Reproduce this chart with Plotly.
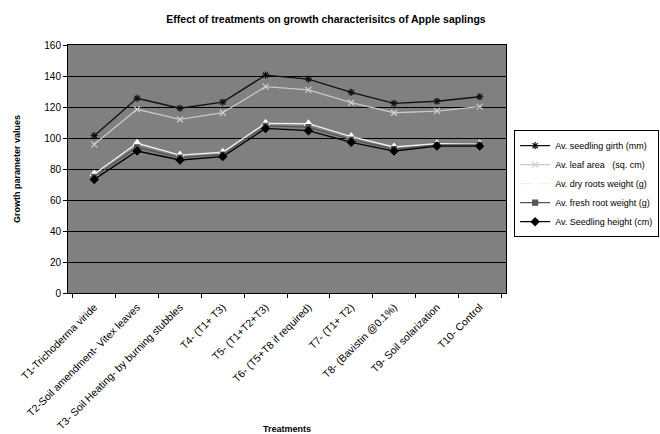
import plotly.graph_objects as go

treatments = ["T1-Trichoderma viride", "T2-Soil amendment- Vitex leaves",
              "T3- Soil Heating- by burning stubbles", "T4- (T1+ T3)", "T5- (T1+T2+T3)",
              "T6- (T5+T8 if required)", "T7- (T1+ T2)", "T8- (Bavistin @0.1%)",
              "T9- Soil solarization", "T10- Control"]
seedling_girth = [101.5, 125.6, 119.2, 123.2, 140.6, 138.0, 129.5, 122.4, 123.7, 126.6]
leaf_area = [95.9, 118.5, 112.0, 116.3, 133.1, 131.0, 122.8, 116.3, 117.4, 120.2]
dry_roots_weight = [76.8, 96.6, 89.0, 90.8, 109.5, 109.2, 100.9, 94.2, 96.3, 96.1]
fresh_root_weight = [75.0, 94.0, 87.3, 89.3, 107.8, 107.0, 99.0, 92.8, 95.5, 95.5]
seedling_height = [73.3, 91.6, 85.8, 88.0, 106.2, 104.7, 97.2, 91.6, 94.8, 94.8]

font = "Liberation Sans, Arial, sans-serif"
fig = go.Figure()
specs = [
    ("Av. seedling girth (mm)", seedling_girth, "#111111", "asterisk-open", "#111111", 6),
    ("Av. leaf area   (sq. cm)", leaf_area, "#c8c8c8", "x-thin-open", "#d0d0d0", 6),
    ("Av. dry roots weight (g)", dry_roots_weight, "#f0f0f0", "triangle-up", "#ffffff", 7),
    ("Av. fresh root weight (g)", fresh_root_weight, "#555555", "square", "#555555", 5),
    ("Av. Seedling height (cm)", seedling_height, "#000000", "diamond", "#000000", 6),
]
for name, vals, lc, sym, mc, ms in specs:
    fig.add_trace(go.Scatter(
        x=treatments, y=vals, name=name, mode="lines+markers",
        line=dict(color=lc, width=1.3),
        marker=dict(symbol=sym, color=mc, size=ms, line=dict(color=mc, width=1.2)),
    ))

fig.update_layout(
    width=660, height=434,
    margin=dict(l=68, r=154, t=45, b=141),
    paper_bgcolor="white", plot_bgcolor="#808080",
    font=dict(family=font, size=9, color="black"),
    title=dict(text="<b>Effect of treatments on growth characterisitcs of Apple saplings</b>",
               x=0.494, xanchor="center", y=0.955, yanchor="middle",
               font=dict(size=10.5), automargin=False),
    legend=dict(xref="container", yref="container", x=0.779, y=0.70,
                xanchor="left", yanchor="top",
                bgcolor="white", bordercolor="black", borderwidth=1,
                font=dict(size=9), tracegroupgap=0, itemwidth=30),
    showlegend=True,
)
fig.update_xaxes(
    type="category", tickangle=-45, tickson="boundaries", ticks="outside",
    ticklen=4, tickcolor="black", showline=True, linecolor="black", mirror=True,
    showgrid=False, tickfont=dict(size=10.5), automargin=False, ticklabelstandoff=3,
    title=dict(text="<b>Treatments</b>", font=dict(size=9), standoff=6),
)
fig.update_yaxes(
    range=[0, 160], dtick=20, ticks="outside", ticklen=4, tickcolor="black",
    showline=True, linecolor="black", mirror=True, automargin=False,
    showgrid=True, gridcolor="black", gridwidth=1, zeroline=False,
    tickfont=dict(size=10),
    title=dict(text="<b>Growth parameter values</b>", font=dict(size=9), standoff=22),
)
fig.write_html("out.html", config={"displayModeBar": False},
               post_script="document.body.style.margin='0';document.body.style.padding='0';")
